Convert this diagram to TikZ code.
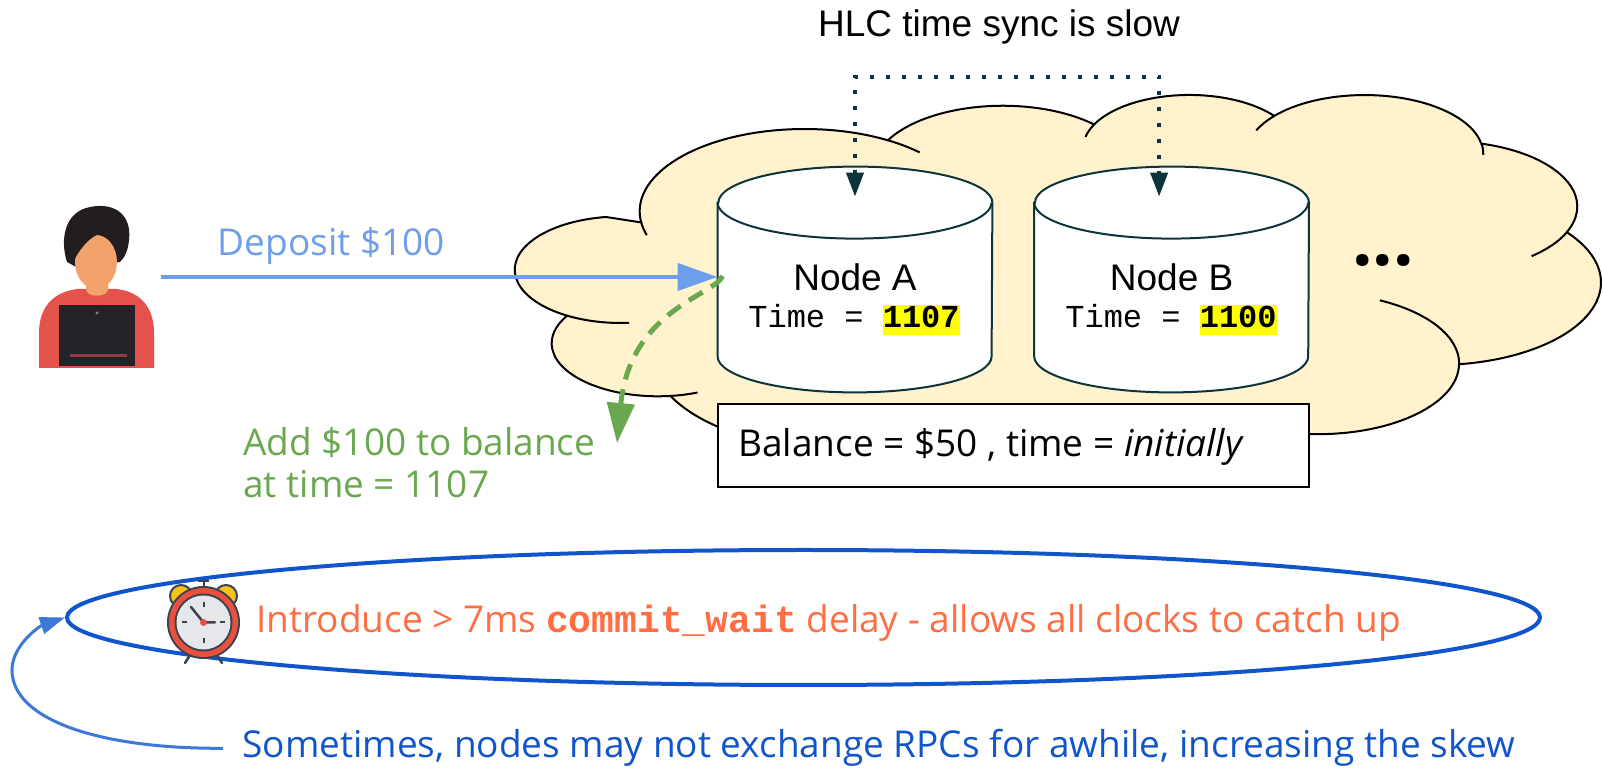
\documentclass[tikz,border=0pt]{standalone}
\usepackage{fontspec}
\setmainfont{Open Sans}
\setmonofont{Liberation Mono}
\newfontfamily\arialfont{Liberation Sans}
\usetikzlibrary{arrows.meta,shapes.geometric}

\definecolor{cloudfill}{HTML}{FFF2CC}
\definecolor{tealdark}{HTML}{0C343D}
\definecolor{depblue}{HTML}{6D9EEB}
\definecolor{addgreen}{HTML}{6AA84F}
\definecolor{waitorange}{HTML}{FF6D42}
\definecolor{skewblue}{HTML}{1155CC}
\definecolor{loopblue}{HTML}{3C78D8}
\definecolor{hlyellow}{HTML}{FFFF00}
\definecolor{clockdark}{HTML}{3A4350}
\definecolor{clockred}{HTML}{E9503E}
\definecolor{clockface}{HTML}{E6E7EB}
\definecolor{clockbell}{HTML}{F8C21B}
\definecolor{hair}{HTML}{221D20}
\definecolor{skin}{HTML}{F2A36C}
\definecolor{shirt}{HTML}{E5514B}
\definecolor{laptop}{HTML}{232226}
\definecolor{laptopbar}{HTML}{8E3D44}

% yellow marker behind a piece of text
\newcommand\hilite[1]{{\setlength{\fboxsep}{0pt}\colorbox{hlyellow}{\rule[-4pt]{0pt}{15pt}#1}}}

% parametric angles of an elliptic arc given by its visual start angle and sweep
\newcommand\cloudarcangles[6]{%
  \pgfmathsetmacro#1{atan2((#3)*sin(#5),(#4)*cos(#5))}%
  \pgfmathsetmacro\arcTmp{atan2((#3)*sin((#5)+(#6)),(#4)*cos((#5)+(#6)))}%
  \pgfmathsetmacro#2{#1+mod(\arcTmp-#1+720,360)}%
}
\newcommand\cloudparang[4]{\pgfmathsetmacro#1{atan2((#2)*sin(#4),(#3)*cos(#4))}}

% database cylinder drawn around an empty node
\newcommand\drawcylinder[1]{%
  \filldraw[cylbody] ([yshift=-18pt]#1.north west) -- ([yshift=18pt]#1.south west)
    arc[start angle=180, end angle=360, x radius=68.5pt, y radius=18pt]
    -- ([yshift=-18pt]#1.north east)
    arc[start angle=0, end angle=180, x radius=68.5pt, y radius=18pt] -- cycle;
  \draw[cylbody, fill=none] ([yshift=-18pt]#1.north west)
    arc[start angle=180, end angle=360, x radius=68.5pt, y radius=18pt];
}

\begin{document}
\begin{tikzpicture}[x=0.5pt, y=-0.5pt,
  cloudshape/.style={fill=cloudfill, draw=black, line width=1pt},
  cloudcrease/.style={draw=black, line width=1pt},
  cylbody/.style={fill=white, draw=tealdark, line width=1pt},
  cylnode/.style={minimum width=137pt, minimum height=112.5pt, inner sep=0pt},
  txt/.style={inner sep=0pt, font=\fontsize{18.5pt}{21pt}\selectfont},
  artxt/.style={inner sep=0pt, font=\arialfont\fontsize{18.5pt}{21pt}\selectfont},
  monotxt/.style={inner sep=0pt, font=\ttfamily\fontsize{16pt}{18pt}\selectfont},
  syncarrow/.style={draw=tealdark, line width=2pt, dash pattern=on 2pt off 6pt,
    >={Triangle[length=12pt,width=8.5pt]}, <->},
  deposit/.style={draw=depblue, line width=2pt, -{Triangle[length=20pt,width=13.5pt]}},
  addarrow/.style={draw=addgreen, line width=2.5pt, dash pattern=on 8pt off 5pt,
    -{Triangle[length=20pt,width=13.5pt]}},
  looparrow/.style={draw=loopblue, line width=1.5pt, -{Triangle[length=12.5pt,width=8.5pt]}}
]
\useasboundingbox (0,0) rectangle (1603,769);

% ---------- cloud outline angles ----------
\cloudarcangles\sA\eA{67.53}{91.90}{-190.4875}{123.7805}
\cloudarcangles\sB\eB{53.33}{72.67}{-144.1024}{89.9452}
\cloudarcangles\sC\eC{43.65}{59.45}{-145.8079}{99.7230}
\cloudarcangles\sD\eD{48.57}{65.95}{-130.9861}{117.2417}
\cloudarcangles\sE\eE{53.33}{72.73}{-78.7089}{109.0269}
\cloudarcangles\sF\eF{67.75}{92.20}{-46.2673}{130.2690}
\cloudarcangles\sG\eG{57.85}{78.67}{0.6250}{114.0333}
\cloudarcangles\sH\eH{67.52}{92.15}{22.4654}{123.8022}
\cloudarcangles\sI\eI{77.20}{105.43}{66.2408}{80.3584}
\cloudarcangles\sJ\eJ{43.60}{59.18}{-274.9421}{134.5616}
\cloudarcangles\sK\eK{43.45}{59.45}{-246.8285}{150.9706}
% crease ends
\cloudparang\pA{67.53}{91.90}{157.6544}
\pgfmathsetmacro\cAend{\sA-mod(\sA-\pA+720,360)}
\cloudparang\pAf{67.53}{91.90}{-54.3876}
\pgfmathsetmacro\cAfend{\eA+mod(\pAf-\eA+720,360)}
\cloudparang\pC{43.65}{59.45}{-163.4943}
\pgfmathsetmacro\cCend{\sC-mod(\sC-\pC+720,360)}
\cloudparang\pD{48.57}{65.95}{-149.1815}
\pgfmathsetmacro\cDend{\sD-mod(\sD-\pD+720,360)}
\cloudparang\pDf{48.57}{65.95}{1.1146}
\pgfmathsetmacro\cDfend{\eD+mod(\pDf-\eD+720,360)}
\cloudparang\pE{53.33}{72.73}{58.0695}
\pgfmathsetmacro\cEend{\eE+mod(\pE-\eE+720,360)}
\cloudparang\pG{57.85}{78.67}{-70.2924}
\pgfmathsetmacro\cGend{\sG-mod(\sG-\pG+720,360)}
\cloudparang\pJ{43.60}{59.18}{73.6105}
\pgfmathsetmacro\cJend{\sJ-mod(\sJ-\pJ+720,360)}
\cloudparang\pK{43.45}{59.45}{86.742}
\pgfmathsetmacro\cKend{\sK-mod(\sK-\pK+720,360)}

% ---------- cloud ----------
\begin{scope}[shift={(546,93.7)}, xscale=1.2205, yscale=-0.4479]
  \filldraw[cloudshape] (39.00pt,143.70pt) coordinate (cj0)
    arc[start angle=\sA, end angle=\eA, x radius=67.53pt, y radius=91.90pt] coordinate (cj1)
    arc[start angle=\sB, end angle=\eB, x radius=53.33pt, y radius=72.67pt] coordinate (cj2)
    arc[start angle=\sC, end angle=\eC, x radius=43.65pt, y radius=59.45pt] coordinate (cj3)
    arc[start angle=\sD, end angle=\eD, x radius=48.57pt, y radius=65.95pt] coordinate (cj4)
    arc[start angle=\sE, end angle=\eE, x radius=53.33pt, y radius=72.73pt] coordinate (cj5)
    arc[start angle=\sF, end angle=\eF, x radius=67.75pt, y radius=92.20pt] coordinate (cj6)
    arc[start angle=\sG, end angle=\eG, x radius=57.85pt, y radius=78.67pt] coordinate (cj7)
    arc[start angle=\sH, end angle=\eH, x radius=67.52pt, y radius=92.15pt] coordinate (cj8)
    arc[start angle=\sI, end angle=\eI, x radius=77.20pt, y radius=105.43pt] coordinate (cj9)
    arc[start angle=\sJ, end angle=\eJ, x radius=43.60pt, y radius=59.18pt] coordinate (cj10)
    arc[start angle=\sK, end angle=\eK, x radius=43.45pt, y radius=59.45pt] -- cycle;
  \draw[cloudcrease] (cj0) arc[start angle=\sA, end angle=\cAend, x radius=67.53pt, y radius=91.90pt];
  \draw[cloudcrease] (cj1) arc[start angle=\eA, end angle=\cAfend, x radius=67.53pt, y radius=91.90pt];
  \draw[cloudcrease] (cj2) arc[start angle=\sC, end angle=\cCend, x radius=43.65pt, y radius=59.45pt];
  \draw[cloudcrease] (cj3) arc[start angle=\sD, end angle=\cDend, x radius=48.57pt, y radius=65.95pt];
  \draw[cloudcrease] (cj4) arc[start angle=\eD, end angle=\cDfend, x radius=48.57pt, y radius=65.95pt];
  \draw[cloudcrease] (cj5) arc[start angle=\eE, end angle=\cEend, x radius=53.33pt, y radius=72.73pt];
  \draw[cloudcrease] (cj6) arc[start angle=\sG, end angle=\cGend, x radius=57.85pt, y radius=78.67pt];
  \draw[cloudcrease] (cj9) arc[start angle=\sJ, end angle=\cJend, x radius=43.60pt, y radius=59.18pt];
  \draw[cloudcrease] (cj10) arc[start angle=\sK, end angle=\cKend, x radius=43.45pt, y radius=59.45pt];
\end{scope}

% ---------- database nodes ----------
\node[cylnode] (nodeA) at (855,279.5) {};
\node[cylnode] (nodeB) at (1171.6,279.5) {};
\drawcylinder{nodeA}
\drawcylinder{nodeB}
\node[artxt, anchor=base] (nameA) at (855,290.5) {Node A};
\node[monotxt, anchor=base] (timeA) at (854,327.5) {Time = \hilite{\bfseries 1107}};
\node[artxt, anchor=base] (nameB) at (1171.6,290.5) {Node B};
\node[monotxt, anchor=base] (timeB) at (1171,327.5) {Time = \hilite{\bfseries 1100}};
\node[txt, font=\bfseries\fontsize{36pt}{36pt}\selectfont, anchor=base] (more) at (1383,266) {...};

% ---------- clock sync label and connector ----------
\node[artxt, anchor=base] (hlc) at (999,37) {HLC time sync is slow};
\draw[syncarrow] ([yshift=-15pt]nodeA.north) -- ++(0,-120) -| ([xshift=-6.25pt,yshift=-15pt]nodeB.north);

% ---------- balance record ----------
\node[draw=black, fill=white, line width=1pt, minimum width=295.5pt, minimum height=41.5pt, inner sep=0pt] (balancebox) at (1013.5,445.5) {};
\node[txt, anchor=base west] (balancetext) at (738,457) {Balance = \$50 , time = \textit{initially}};

% ---------- user ----------
\node[inner sep=0pt, minimum width=68pt, minimum height=79.5pt] (person) at (93,288.5) {};
\fill[shirt] (39,368) -- (39,333) .. controls (39,303) and (58,291) .. (78,289) -- (116,289)
  .. controls (136,291) and (154,303) .. (154,333) -- (154,368) -- cycle;
\fill[skin] (86,268) -- (108,268) -- (108,289) .. controls (108,298) and (86,298) .. (86,289) -- cycle;
\fill[hair] (67,262) .. controls (60,240) and (64,212) .. (90,207) .. controls (115,202) and (132,215) .. (129,240)
  .. controls (128,252) and (124,258) .. (120,262) -- (78,268) -- cycle;
\fill[skin] (96,262) ellipse[x radius=10.5pt, y radius=13.5pt];
\fill[hair] (72,264) .. controls (70,225) and (82,210) .. (97,209) .. controls (118,208) and (127,222) .. (125,242)
  .. controls (118,236) and (110,233) .. (102,233) .. controls (90,236) and (80,248) .. (72,264) -- cycle;
\fill[laptop] (59,305) rectangle (135,366);
\fill[laptopbar] (70,354) rectangle (127,357);
\fill[gray] (97,313) circle[radius=0.8pt];

% ---------- deposit request ----------
\node[txt, text=depblue, anchor=base] (deposit) at (331.5,256) {Deposit \$100};
\coordinate (depositTip) at ([yshift=1.25pt]nodeA.west);
\draw[deposit] (person.east |- depositTip) -- (depositTip);

\node[txt, text=addgreen, anchor=north west, align=left] (addlabel) at (243,427) {Add \$100 to balance\\at time = 1107};
\coordinate (addTip) at (617,443);
\draw[addarrow] ([xshift=2.5pt,yshift=1.75pt]nodeA.west) .. controls (715,295) and (630,310) .. (addTip);

% ---------- commit wait ----------
\node[ellipse, draw=skewblue, line width=2pt, minimum width=736.5pt, minimum height=67.5pt, inner sep=0pt] (waitring) at (803.5,617.5) {};
\node[txt, text=waitorange, anchor=base west] (waitnote) at (256,633)
  {Introduce > 7ms {\ttfamily\bfseries\fontsize{19pt}{19pt}\selectfont commit\_wait} delay - allows all clocks to catch up};

% alarm clock
\coordinate (clockc) at (203.5,622.5);
\filldraw[fill=clockbell, draw=clockdark, line width=1pt] (181,596) circle[radius=5.5pt];
\filldraw[fill=clockbell, draw=clockdark, line width=1pt] (226,596) circle[radius=5.5pt];
\draw[clockdark, line width=1pt] (203.5,587) -- (203.5,581) (198,581) -- (209,581);
\draw[clockdark, line width=1.25pt, line cap=round] (190,655) -- (185,663) (217,655) -- (222,663);
\fill[clockdark] (clockc) circle[radius=18.25pt];
\fill[clockred] (clockc) circle[radius=17.25pt];
\fill[clockdark] (clockc) circle[radius=14.5pt];
\fill[clockface] (clockc) circle[radius=13.5pt];
\draw[clockdark, line width=1pt] (203.5,602) -- (203.5,607) (203.5,638) -- (203.5,643)
  (182,622.5) -- (187,622.5) (220,622.5) -- (225,622.5);
\draw[clockdark, line width=1.25pt, line cap=round] (clockc) -- (191,607) (clockc) -- (215,622.5);
\fill[clockred] (clockc) circle[radius=1.75pt];

% ---------- clock skew note ----------
\node[txt, text=skewblue, anchor=base west] (skew) at (242,758)
  {Sometimes, nodes may not exchange RPCs for awhile, increasing the skew};
\draw[looparrow] ([xshift=-9.5pt]skew.west) .. controls (100,749) and (12,720) .. (12,670)
  .. controls (12,645) and (40,626) .. (waitring.west);
\end{tikzpicture}
\end{document}
